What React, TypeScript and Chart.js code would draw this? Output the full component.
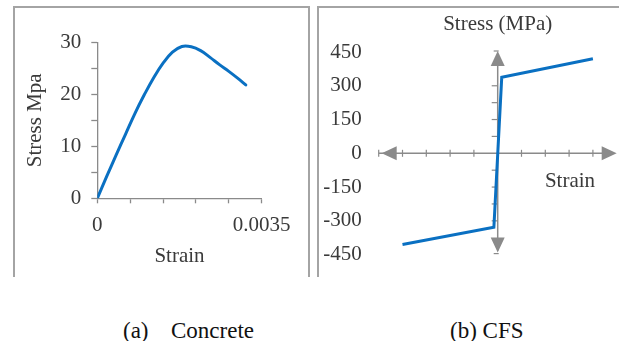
import React, { useEffect, useRef } from 'react';
import { Chart, registerables } from 'chart.js';

Chart.register(...registerables);

// ---------- data: (a) Concrete ----------
const CONCRETE_STRAIN = [0, 0.0002, 0.0004, 0.0006, 0.0008, 0.001, 0.0012, 0.0014, 0.0016, 0.0018, 0.002, 0.0022, 0.0024, 0.0026, 0.0028, 0.003, 0.00316];
const CONCRETE_STRESS = [0, 4.2, 8.3, 12.3, 16.3, 19.9, 23.2, 26.0, 28.1, 29.2, 29.15, 28.4, 27.1, 25.7, 24.4, 23.0, 21.8];
const CONCRETE_X_TICK_LABELS = ['0', '', '', '', '', '0.0035'];
const CONCRETE_Y_LABELLED = [0, 10, 20, 30];

// ---------- data: (b) CFS ----------
const CFS_STRAIN = [-0.04, -0.0016, 0.0017, 0.04];
const CFS_STRESS = [-405, -328, 338, 420];
const CFS_X_TICKS = [-0.04, -0.03, -0.02, -0.01, 0, 0.01, 0.02, 0.03, 0.04];
const CFS_Y_TICKS = [-300, -225, -150, -75, 75, 150, 225, 300];
const CFS_Y_LABELS = ['-450', '-300', '-150', '0', '150', '300', '450'];

const SERIF = "'Liberation Serif', 'Times New Roman', serif";
const BLUE = '#0a70c2';
const AXIS_GRAY = '#8a8a8a';
const TEXT = '#3a3a3a';
const BORDER = '#a4a4a4';

const cfsAxesPlugin = {
  id: 'cfsAxes',
  beforeDatasetsDraw(chart: any) {
    const { ctx, chartArea, scales } = chart;
    const { left, right, top, bottom } = chartArea;
    const xs = scales.x;
    const ys = scales.y;
    const x0 = xs.getPixelForValue(0);
    const y0 = ys.getPixelForValue(0);
    ctx.save();
    ctx.strokeStyle = AXIS_GRAY;
    ctx.fillStyle = AXIS_GRAY;
    ctx.lineWidth = 1.5;
    ctx.beginPath();
    ctx.moveTo(left, y0);
    ctx.lineTo(right - 4, y0);
    ctx.stroke();
    ctx.beginPath();
    ctx.moveTo(x0, top + 2);
    ctx.lineTo(x0, bottom - 4);
    ctx.stroke();
    ctx.lineWidth = 1.2;
    CFS_X_TICKS.forEach((v) => {
      const px = xs.getPixelForValue(v);
      ctx.beginPath();
      ctx.moveTo(px, y0 - 3.5);
      ctx.lineTo(px, y0 + 3.5);
      ctx.stroke();
    });
    ctx.beginPath();
    ctx.moveTo(left, y0 - 3.5);
    ctx.lineTo(left, y0 + 3.5);
    ctx.stroke();
    CFS_Y_TICKS.forEach((v) => {
      const py = ys.getPixelForValue(v);
      ctx.beginPath();
      ctx.moveTo(x0 - 6, py);
      ctx.lineTo(x0, py);
      ctx.stroke();
    });
    ctx.beginPath();
    ctx.moveTo(x0 - 4, top - 1);
    ctx.lineTo(x0 + 1, top - 1);
    ctx.stroke();
    ctx.beginPath();
    ctx.moveTo(x0 - 4, bottom - 1);
    ctx.lineTo(x0 + 1, bottom - 1);
    ctx.stroke();
    const tri = (ax: number, ay: number, bx1: number, by1: number, bx2: number, by2: number) => {
      ctx.beginPath();
      ctx.moveTo(ax, ay);
      ctx.lineTo(bx1, by1);
      ctx.lineTo(bx2, by2);
      ctx.closePath();
      ctx.fill();
    };
    const L = 15;
    const H = 7;
    tri(left + 3, y0, left + 3 + L, y0 - H, left + 3 + L, y0 + H);
    tri(right, y0, right - L, y0 - H, right - L, y0 + H);
    tri(x0, top - 1, x0 - H, top - 1 + L, x0 + H, top - 1 + L);
    tri(x0, bottom - 2, x0 - H, bottom - 2 - L, x0 + H, bottom - 2 - L);
    ctx.restore();
  },
};

function ConcreteChart() {
  const ref = useRef<HTMLCanvasElement>(null);
  useEffect(() => {
    if (!ref.current) return;
    const chart = new Chart(ref.current, {
      type: 'line',
      data: {
        datasets: [
          {
            data: CONCRETE_STRAIN.map((s, i) => ({ x: s, y: CONCRETE_STRESS[i] })),
            borderColor: BLUE,
            borderWidth: 3,
            pointRadius: 0,
            tension: 0.4,
            borderCapStyle: 'round',
            borderJoinStyle: 'round',
            fill: false,
          },
        ],
      },
      options: {
        responsive: false,
        animation: false,
        devicePixelRatio: 1,
        layout: { padding: { left: 0, top: 34.3, right: 44.3, bottom: 0 } },
        plugins: { legend: { display: false }, tooltip: { enabled: false } },
        scales: {
          x: {
            type: 'linear',
            min: 0,
            max: 0.0035,
            afterFit: (s: any) => {
              s.height = 77.7;
            },
            ticks: {
              stepSize: 0.0007,
              autoSkip: false,
              maxRotation: 0,
              padding: 10,
              color: TEXT,
              font: { family: SERIF, size: 21 },
              callback: (_v: any, i: number) => CONCRETE_X_TICK_LABELS[i] ?? '',
            },
            grid: { drawOnChartArea: false, drawTicks: true, tickLength: 5, tickColor: AXIS_GRAY, tickWidth: 1.3 },
            border: { display: true, color: AXIS_GRAY, width: 1.3 },
            title: {
              display: true,
              text: 'Strain',
              color: TEXT,
              font: { family: SERIF, size: 21 },
              padding: { top: 0, bottom: 7 },
            },
          },
          y: {
            type: 'linear',
            min: 0,
            max: 30,
            afterFit: (s: any) => {
              s.width = 82.3;
            },
            ticks: {
              stepSize: 5,
              autoSkip: false,
              padding: 10,
              color: TEXT,
              font: { family: SERIF, size: 21 },
              callback: (v: any) => (CONCRETE_Y_LABELLED.includes(Number(v)) ? String(v) : ''),
            },
            grid: { drawOnChartArea: false, drawTicks: true, tickLength: 6, tickColor: AXIS_GRAY, tickWidth: 1.3 },
            border: { display: true, color: AXIS_GRAY, width: 1.3 },
            title: {
              display: true,
              text: 'Stress Mpa',
              color: TEXT,
              font: { family: SERIF, size: 21 },
              padding: { top: 7.4, bottom: 0 },
            },
          },
        },
      },
    } as any);
    return () => chart.destroy();
  }, []);
  return <canvas ref={ref} width={291} height={268} style={{ position: 'absolute', left: 15, top: 8, width: 291, height: 268 }} />;
}

function CfsChart() {
  const ref = useRef<HTMLCanvasElement>(null);
  useEffect(() => {
    if (!ref.current) return;
    const chart = new Chart(ref.current, {
      type: 'line',
      data: {
        datasets: [
          {
            data: CFS_STRAIN.map((s, i) => ({ x: s, y: CFS_STRESS[i] })),
            borderColor: BLUE,
            borderWidth: 3,
            pointRadius: 0,
            tension: 0,
            fill: false,
          },
        ],
      },
      options: {
        responsive: false,
        animation: false,
        devicePixelRatio: 1,
        layout: { padding: { left: 0, top: 0, right: 2.3, bottom: 21.4 } },
        plugins: {
          legend: { display: false },
          tooltip: { enabled: false },
          title: {
            display: true,
            text: 'Stress (MPa)',
            fullSize: false,
            color: TEXT,
            font: { family: SERIF, size: 21, weight: 'normal' },
            padding: { top: 4, bottom: 14.8 },
          },
        },
        scales: {
          x: {
            type: 'linear',
            min: -0.05,
            max: 0.05,
            display: false,
          },
          y: {
            type: 'linear',
            min: -450,
            max: 450,
            afterFit: (s: any) => {
              s.width = 59.7;
            },
            ticks: {
              stepSize: 150,
              autoSkip: false,
              padding: 0,
              color: TEXT,
              font: { family: SERIF, size: 21 },
              callback: (_v: any, i: number) => CFS_Y_LABELS[i] ?? '',
            },
            grid: { display: true, drawOnChartArea: false, drawTicks: true, tickLength: 17, tickColor: 'rgba(0,0,0,0)' },
            border: { display: false },
          },
        },
      },
      plugins: [cfsAxesPlugin],
    } as any);
    return () => chart.destroy();
  }, []);
  return <canvas ref={ref} width={300} height={268} style={{ position: 'absolute', left: 319, top: 8, width: 300, height: 268 }} />;
}

export default function App() {
  const textStyle: React.CSSProperties = {
    position: 'absolute',
    fontFamily: SERIF,
    whiteSpace: 'nowrap',
    lineHeight: 1,
  };
  return (
    <div
      style={{
        position: 'fixed',
        left: 0,
        top: 0,
        width: 619,
        height: 341,
        overflow: 'hidden',
        background: '#fff',
      }}
    >
      <div
        style={{
          position: 'absolute',
          left: 13,
          top: 6,
          width: 297,
          height: 271,
          boxSizing: 'border-box',
          borderLeft: `2px solid ${BORDER}`,
          borderTop: `2px solid ${BORDER}`,
          borderRight: `2px solid ${BORDER}`,
        }}
      />
      <div
        style={{
          position: 'absolute',
          left: 317,
          top: 6,
          width: 400,
          height: 271,
          boxSizing: 'border-box',
          borderLeft: `2px solid ${BORDER}`,
          borderTop: `2px solid ${BORDER}`,
        }}
      />
      <ConcreteChart />
      <CfsChart />
      <span style={{ ...textStyle, left: 570, top: 180, transform: 'translate(-50%, -50%)', fontSize: 21, color: TEXT }}>Strain</span>
      <span style={{ ...textStyle, left: 123, top: 319, fontSize: 23, color: '#111' }}>(a)</span>
      <span style={{ ...textStyle, left: 171, top: 319, fontSize: 23, color: '#111' }}>Concrete</span>
      <span style={{ ...textStyle, left: 450, top: 319, fontSize: 23, color: '#111' }}>(b) CFS</span>
    </div>
  );
}
